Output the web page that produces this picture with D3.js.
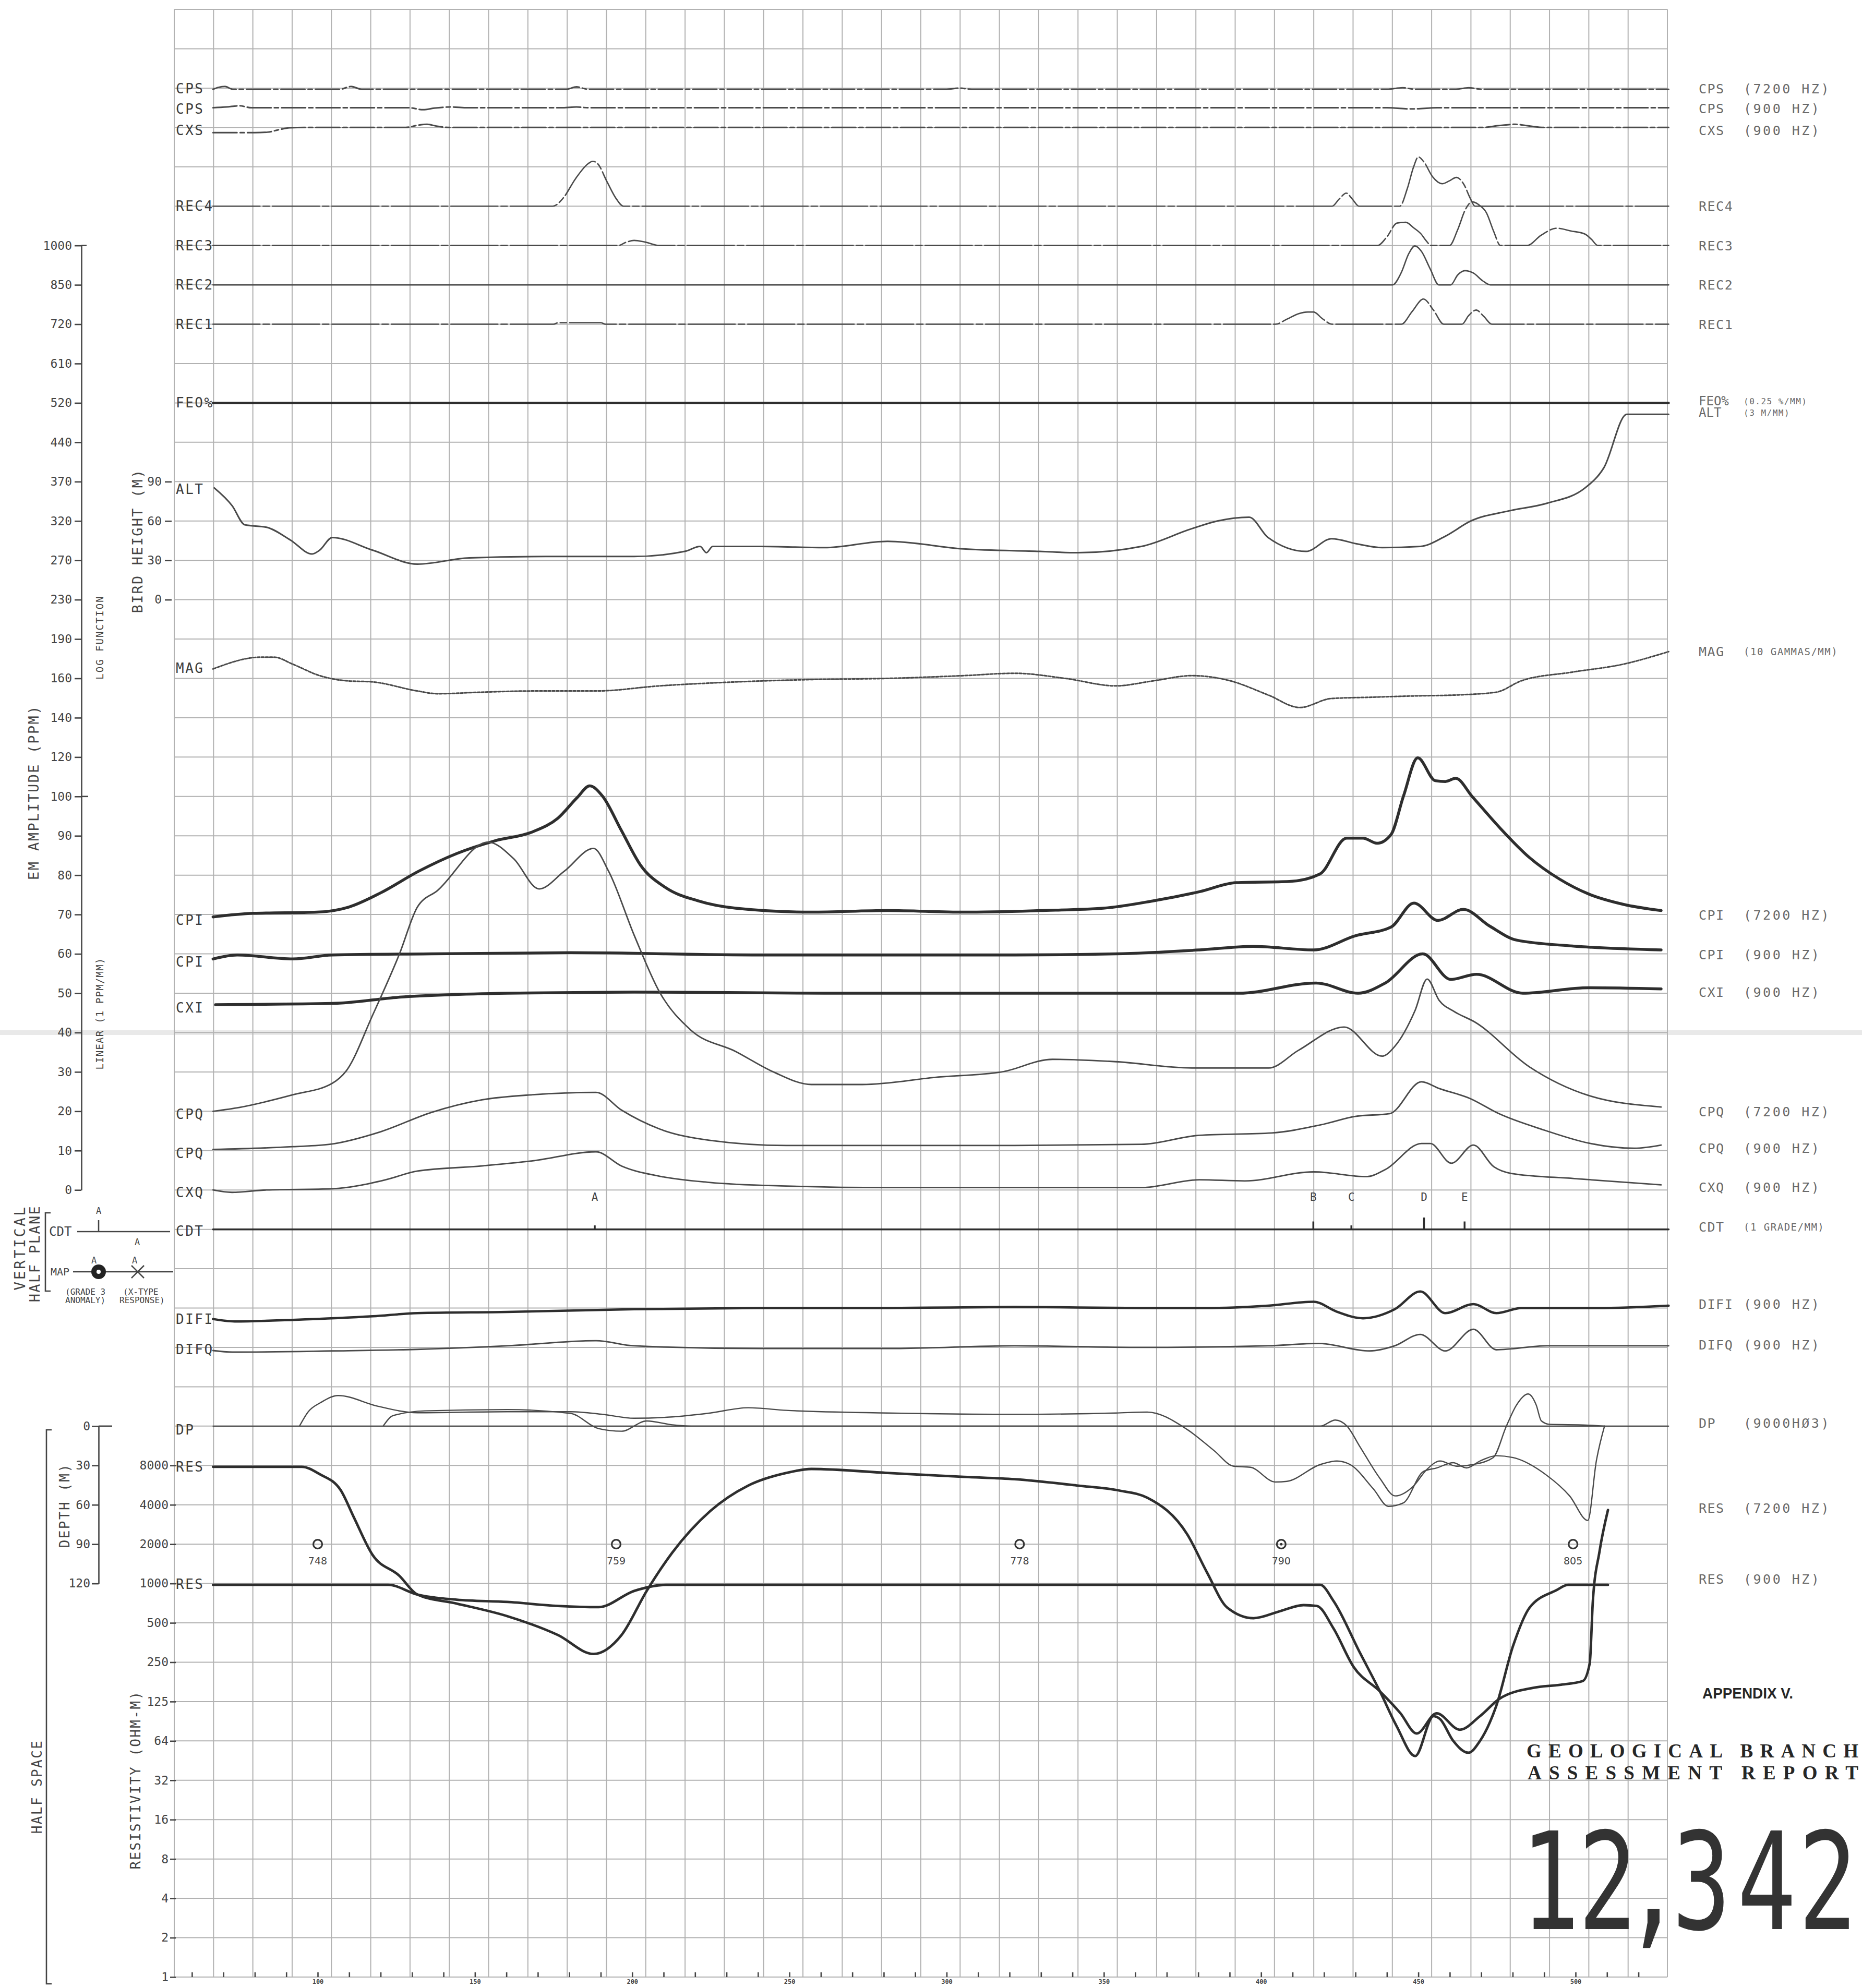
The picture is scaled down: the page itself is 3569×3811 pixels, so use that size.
<!DOCTYPE html>
<html>
<head>
<meta charset="utf-8">
<script src="https://cdn.jsdelivr.net/npm/d3@7"></script>
<style>
  html, body { margin: 0; padding: 0; background: #fff; }
  svg { display: block; }
</style>
</head>
<body>
<script>
// ---------------------------------------------------------------------------
// Airborne EM / MAG profile — data (x = fiducial number along the flight line)
// ---------------------------------------------------------------------------

// Sferics monitors (relative units)
const cps7200 = [[66.7,0],[68.5,5],[70.5,7],[73,0],[107,0],[110.6,7],[114,0],[179,0],[182.3,6],[186,0],[300,0],[304,3],[308,0],[440,0],[445,4],[449,0],[462,0],[466,4],[470,0],[529.6,0]];
const cps900  = [[66.7,0],[71,2],[75.1,5],[79,0],[129,0],[133.5,-5],[137,-1],[142.5,2],[147,0],[178,0],[182.3,2],[186,0],[440,0],[448,-3],[456,0],[529.6,0]];
const cxs     = [[66.7,-13],[80,-13],[84,-12],[88,-5],[91,-1],[96,0],[128,0],[132,6],[134.8,8],[138,3],[142,0],[470,0],[476,5],[480.8,8],[485,4],[490,0],[529.6,0]];

// Recognition channels (relative units)
const rec4 = [[66.7,0],[174.8,0],[178,20],[182,70],[186,108],[187.4,114],[189,108],[192,62],[195,18],[197.2,0],[422.6,0],[424.8,18],[427.1,33],[429,18],[431.1,0],[444.1,0],[446.5,45],[448.5,100],[450,125],[451.8,112],[454.5,75],[457.6,57],[459.8,64],[462.1,73],[464.5,55],[466.5,20],[468,0],[529.6,0]];
const rec3 = [[66.7,0],[195.5,0],[198,8],[200.6,13],[204,9],[208.7,0],[437,0],[440,22],[443.2,57],[446,59],[448.5,45],[450.9,29],[452.5,12],[454.1,0],[459.9,0],[462.5,40],[465,92],[467.1,111],[469.5,102],[471.6,84],[474,35],[476.1,0],[484.6,0],[489,26],[494,44],[498.5,37],[503,29],[505,16],[507.1,0],[529.6,0]];
const rec2 = [[66.7,0],[441.8,0],[444.5,30],[447,80],[448.9,99],[451,85],[453.8,40],[456.5,0],[460.3,0],[462.5,25],[464.8,36],[467.5,30],[470.5,10],[472.9,0],[529.6,0]];
const rec1 = [[66.7,0],[175,0],[176.5,4],[190,4],[191.5,0],[404.6,0],[408,12],[412,27],[414.9,31],[416.7,31],[419.5,14],[422.6,0],[444.6,0],[448,32],[451.6,64],[454.8,36],[458.1,0],[463.9,0],[466,22],[468.4,36],[470.8,20],[473.4,0],[529.6,0]];

// FEO% (flat) and bird altitude (m)
const feo = [[66.7,0],[529.6,0]];
const alt = [[67.1,85.2],[72.8,71.6],[76.8,57.1],[83.7,55.2],[91.3,45.5],[98.2,34.8],[100.6,37.7],[104.6,47.4],[117.5,37.7],[131.7,27.1],[148.2,31.9],[172.4,32.9],[200.6,32.9],[216.7,36.8],[221.6,40.6],[223.6,35.8],[225.6,40.6],[240.9,40.6],[261.1,39.7],[281.2,44.5],[305.4,38.7],[329.6,36.8],[341.7,35.8],[361.9,40.6],[378.0,54.2],[386.1,60.0],[396.2,62.9],[402.2,47.4],[414.3,36.8],[422.4,46.5],[430.4,42.6],[438.5,39.7],[450.6,40.6],[458.6,48.4],[466.7,60.0],[478.8,67.7],[490.9,73.5],[503.0,85.2],[509.0,100.6],[516.3,141.3],[529.6,141.3]];

// Total magnetic field (nT)
const mag = [[66.7,58398],[81.9,58428],[86.1,58428],[92.1,58410],[100.6,58381],[109.1,58368],[117.5,58365],[131.7,58342],[138.1,58335],[152.2,58339],[168.3,58342],[188.5,58342],[208.7,58355],[232.9,58365],[257.0,58371],[281.2,58374],[305.4,58381],[321.6,58387],[337.7,58374],[353.8,58355],[365.9,58368],[378.0,58381],[390.1,58368],[402.2,58332],[412.3,58300],[422.4,58323],[434.5,58326],[446.6,58329],[462.7,58332],[474.8,58339],[482.8,58368],[499.0,58390],[515.1,58410],[529.6,58442]];

// EM amplitudes (ppm, read on the EM amplitude axis)
const cpi7200 = [[66.7,69.4],[79.6,70.3],[99.8,70.6],[109.9,71.9],[120.0,75.5],[132.1,81.0],[144.2,85.5],[156.2,88.7],[168.3,91.0],[176.4,94.5],[182.5,99.7],[186.5,105.4],[190.5,100.3],[196.6,91.3],[202.6,82.6],[210.7,76.8],[220.8,73.5],[232.9,71.6],[257.0,70.6],[281.2,71.0],[305.4,70.6],[329.6,71.0],[349.8,71.6],[365.9,73.5],[380.4,75.8],[392.1,78.1],[409.0,78.4],[418.7,80.3],[427.2,89.4],[432.4,89.4],[436.9,88.1],[441.3,90.3],[445.3,100.3],[449.8,119.6],[455.4,108.0],[458.6,107.6],[461.9,109.2],[467.1,100.0],[475.6,92.3],[485.3,84.5],[494.9,79.0],[504.2,75.2],[515.1,72.6],[527.2,71.0]];
const cpi900  = [[66.7,58.7],[74.4,59.7],[92.1,58.7],[104.6,59.7],[136.1,60.0],[180.4,60.3],[240.9,59.7],[281.2,59.7],[321.6,59.7],[353.8,60.0],[380.4,61.0],[397.4,61.9],[416.7,61.0],[430.0,64.6],[441.3,66.8],[448.6,72.9],[456.2,68.5],[464.3,71.3],[472.8,67.0],[481.2,63.5],[499.0,62.0],[527.2,61.0]];
const cxi     = [[67.5,47.1],[104.6,47.4],[126.0,49.0],[160.3,50.0],[200.6,50.3],[261.0,50.0],[321.6,50.0],[380.4,50.0],[392.9,50.0],[417.5,52.6],[430.8,50.0],[439.5,52.6],[451.4,60.0],[460.3,53.5],[468.5,54.8],[483.2,50.0],[504.2,51.4],[527.2,51.1]];
const cpq7200 = [[66.7,20.0],[75.2,21.0],[92.1,24.2],[104.6,27.1],[109.1,30.3],[117.5,44.5],[126.0,60.0],[131.7,71.9],[138.1,76.1],[154.2,88.4],[162.3,84.2],[170.4,76.5],[178.4,81.0],[187.7,86.8],[192.5,81.0],[200.6,64.8],[208.7,50.3],[218.7,40.6],[232.9,35.2],[244.9,30.0],[257.0,26.8],[273.2,26.8],[297.4,28.7],[317.5,30.0],[333.7,33.2],[353.8,32.6],[378.0,31.0],[402.4,31.0],[411.9,35.5],[426.4,41.4],[438.5,34.0],[442.4,36.4],[449.0,45.7],[452.8,53.6],[456.6,48.2],[461.5,45.3],[467.9,42.7],[485.3,31.3],[504.2,24.0],[527.2,21.1]];
const cpq900  = [[66.7,10.3],[92.1,11.0],[103.8,11.6],[120.0,14.8],[136.1,19.7],[152.2,22.9],[168.3,24.2],[188.5,24.8],[196.6,20.3],[208.7,15.5],[224.8,12.6],[249.0,11.3],[281.2,11.3],[321.6,11.3],[361.9,11.6],[380.4,13.9],[403.4,14.5],[418.7,16.5],[430.0,18.7],[440.9,19.4],[451.0,27.5],[456.6,25.8],[466.3,23.3],[475.6,19.4],[490.1,15.2],[504.2,11.9],[518.7,10.6],[527.2,11.4]];
const cxq     = [[66.7,0.0],[72.8,-0.6],[83.7,0.0],[104.6,0.3],[121.6,2.6],[131.7,4.8],[152.2,6.1],[168.3,7.4],[188.5,9.7],[196.6,6.1],[208.7,3.5],[224.8,1.9],[249.0,1.0],[281.2,0.6],[321.6,0.6],[361.9,0.6],[380.4,2.6],[394.8,2.3],[416.7,4.6],[433.6,3.4],[439.5,5.2],[451.0,11.8],[453.8,11.8],[460.5,6.8],[467.5,11.4],[474.0,5.9],[479.6,4.2],[499.6,2.9],[527.2,1.3]];

// Conductor anomalies (CDT grade)
const cdtIds    = ['A', 'B', 'C', 'D', 'E'];
const cdtFids   = [188.1, 416.6, 428.7, 451.8, 464.7];
const cdtGrades = [1, 2, 1, 3, 2];
const cdtLine   = [[66.7,0],[529.6,0]];

// Difference channels (ppm about their own zero)
const difi = [[66.7,0.1],[73.6,-0.5],[92.1,-0.1],[117.5,0.8],[131.7,1.6],[160.3,1.9],[200.6,2.6],[240.9,2.9],[281.2,2.9],[321.6,3.2],[361.9,2.9],[382.0,2.9],[402.2,3.5],[416.7,4.5],[424.0,2.0],[432.4,0.3],[442.5,2.6],[450.6,7.1],[458.6,1.6],[467.5,3.9],[474.8,1.6],[482.8,2.9],[507.0,2.9],[529.6,3.5]];
const difq = [[66.7,-0.2],[72.8,-0.6],[104.6,-0.3],[131.7,0.1],[160.3,1.0],[188.5,2.3],[200.6,1.0],[240.9,0.3],[281.2,0.3],[321.6,1.0],[361.9,0.6],[402.2,1.0],[418.3,1.6],[434.5,-0.3],[442.5,1.0],[450.6,3.9],[458.6,-0.3],[467.5,5.2],[474.8,0.0],[490.9,1.0],[529.6,1.0]];

// Half-space depths (m) and resistivities (ohm-m)
const dpZero = [[66.7,0],[529.6,0]];
const dp7200 = [[94.2,0],[97,-11],[101,-18],[106.5,-23.3],[119.2,-15.1],[131.7,-10.2],[160.3,-11],[180.4,-11],[190.5,-9],[200.6,-6],[212.7,-7],[224.8,-10],[236.9,-14],[249,-12],[281.2,-10],[321.6,-9],[353.8,-10],[363.8,-10.7],[376.5,2.6],[385.0,18.6],[391.3,30.6],[396.6,31.4],[404.5,42.6],[408.2,42.1],[418.8,29.3],[424.1,26.6],[428.3,29.3],[435.7,47.9],[440.5,61.2],[445.2,58.6],[451.6,34.6],[455.8,31.9],[461.1,27.9],[465.3,31.9],[469.6,26.6],[474.8,22.6],[480.1,24.0],[490.7,37.3],[498.1,53.2],[503.9,71.9],[506.6,26.6],[509.2,0]];
const dp900  = [[120.8,0],[124,-8],[134.1,-11.6],[160.3,-12.6],[180.4,-9.7],[189.3,1.9],[196.6,3.9],[204.6,-3.9],[212.7,-1],[218.7,0],[418.8,0],[423.6,-4.6],[427.3,0],[431.5,16],[437.8,39.9],[442.6,53.2],[448.4,45.8],[452.6,33.3],[456.9,26.6],[462.2,30.6],[467.4,29.3],[473.8,24],[478,0],[481.2,-16],[484.9,-24.5],[487.5,-16],[489.1,-4],[491.8,-1.3],[503.4,-0.8],[509.2,0]];
const res7200 = [[66.7,8000],[94.9,8000],[100.6,7030],[107.3,5300],[111.5,3280],[117.4,1700],[125.9,1176],[131.7,843],[144.2,719],[160.3,576],[176.4,413],[187.7,296],[196.6,413],[204.6,898],[212.7,1758],[224.8,3666],[236.9,5750],[249.0,7180],[257.0,7700],[281.2,7180],[305.4,6700],[321.6,6430],[341.7,5750],[355.0,5260],[363.8,4640],[376.5,2435],[382.8,1243],[389.2,671],[397.6,556],[406.1,630],[413.5,700],[417.7,690],[423.0,465],[429.4,236],[437.8,153],[444.2,105],[449.5,73],[455.8,104],[463.2,78],[469.6,99],[475.9,135],[486.5,163],[495.0,172],[502.3,184],[504.5,251],[505.5,755],[507.6,1795],[510.3,3740]];
const res900  = [[66.7,1000],[122.4,1000],[131.7,843],[144.2,770],[160.3,740],[176.4,690],[189.3,675],[200.6,898],[210.7,1000],[418.8,1000],[423.0,755],[431.5,300],[437.8,153],[443.1,83],[449.0,49],[454.8,99],[456.9,94],[461.1,64],[465.9,52],[469.6,64],[474.8,119],[480.1,340],[485.4,671],[493.9,910],[497.6,1000],[510.3,1000]];

// Flight-path fiducial points
const fidPointLabels = ['748', '759', '778', '790', '805'];
const fidPointValues = [100, 194.9, 323.2, 406.4, 499.2];

// Axis tick values
const emTicks    = [0,10,20,30,40,50,60,70,80,90,100,120,140,160,190,230,270,320,370,440,520,610,720,850,1000];
const altTicks   = [0, 30, 60, 90];
const depthTicks = [0, 30, 60, 90, 120];
const resTicks   = [8192, 4096, 2048, 1024, 512, 256, 128, 64, 32, 16, 8, 4, 2, 1];
const resTickLabels = ['8000','4000','2000','1000','500','250','125','64','32','16','8','4','2','1'];
const fidTicks   = d3.range(60, 530, 10);

// ---------------------------------------------------------------------------
// Layout
// ---------------------------------------------------------------------------
const W = 3569, H = 3811;
const PLOT = { left: 334, right: 3196, top: 18, bottom: 3790 };
const FONT = "'DejaVu Sans Mono','Liberation Mono',monospace";
const INK = '#2e2e2e', INK2 = '#4a4a4a';

const rowY = d3.scaleLinear().domain([0, 50]).range([PLOT.top, PLOT.bottom]);
const colX = d3.scaleLinear().domain([0, 38]).range([PLOT.left, PLOT.right]);
const x = d3.scaleLinear().domain([100, 500]).range([609, 3020]);

// one scale per track, all expressed on the chart-paper rows
const emY    = d3.scaleLinear().domain(emTicks).range(emTicks.map((d, i) => rowY(30 - i)));
const altY   = d3.scaleLinear().domain([0, 90]).range([rowY(15), rowY(12)]);
const magY   = d3.scaleLinear().domain([58300, 58400]).range([rowY(17.74), rowY(16.74)]);
const resY   = d3.scaleLog().base(2).domain([1, 8192]).range([rowY(50), rowY(37)]);
const depthY = d3.scaleLinear().domain([0, 120]).range([rowY(36), rowY(40)]);
const trackY = (baseRow, perRow) => d3.scaleLinear().domain([0, perRow]).range([rowY(baseRow), rowY(baseRow - 1)]);

const svg = d3.select('body').append('svg')
  .attr('width', W).attr('height', H).attr('viewBox', `0 0 ${W} ${H}`);
svg.append('rect').attr('width', W).attr('height', H).attr('fill', '#fff');

// paper fold
svg.append('rect').attr('x', 0).attr('y', 1975).attr('width', W).attr('height', 9)
  .attr('fill', '#e9e9e9');

// ---------------------------------------------------------------------------
// Chart-paper grid
// ---------------------------------------------------------------------------
const grid = svg.append('g').attr('stroke', '#b2b2b2').attr('stroke-width', 2);
grid.selectAll('line.h').data(d3.range(0, 51)).join('line').attr('class', 'h')
  .attr('x1', PLOT.left).attr('x2', PLOT.right)
  .attr('y1', d => rowY(d)).attr('y2', d => rowY(d));
grid.selectAll('line.v').data(d3.range(0, 39)).join('line').attr('class', 'v')
  .attr('x1', d => colX(d)).attr('x2', d => colX(d))
  .attr('y1', PLOT.top).attr('y2', PLOT.bottom);

// ---------------------------------------------------------------------------
// Traces
// ---------------------------------------------------------------------------
const traces = svg.append('g');
function drawTrace(data, yScale, color, width, dash) {
  const line = d3.line().x(d => x(d[0])).y(d => yScale(d[1])).curve(d3.curveMonotoneX);
  traces.append('path').datum(data).attr('d', line)
    .attr('fill', 'none').attr('stroke', color).attr('stroke-width', width)
    .attr('stroke-dasharray', dash || null)
    .attr('stroke-linejoin', 'round').attr('stroke-linecap', 'round');
}

const brokenDash = '46 6 8 6';
drawTrace(cps7200, trackY(2.03, 100), INK2, 3, brokenDash);
drawTrace(cps900,  trackY(2.50, 100), INK2, 3, brokenDash);
drawTrace(cxs,     trackY(3.00, 100), INK2, 3, brokenDash);

drawTrace(rec4, trackY(5, 100), INK2, 2.6, '90 6 12 6');
drawTrace(rec3, trackY(6, 100), INK2, 2.6, '90 6 12 6');
drawTrace(rec2, trackY(7, 100), INK2, 2.6);
drawTrace(rec1, trackY(8, 100), INK2, 2.6, '90 6 12 6');

drawTrace(feo, trackY(10, 100), INK, 4.5);
drawTrace(alt, altY, INK2, 3);
drawTrace(mag, magY, INK2, 3, '5 3');

drawTrace(cpi7200, emY, INK, 5.5);
drawTrace(cpi900,  emY, INK, 5.5);
drawTrace(cxi,     emY, INK, 5.5);
drawTrace(cpq7200, emY, INK2, 2.8);
drawTrace(cpq900,  emY, INK2, 2.8);
drawTrace(cxq,     emY, INK2, 2.8);

// conductor anomaly track
const cdtY = trackY(31, 10);
drawTrace(cdtLine, cdtY, INK, 3.5);
const cdtG = svg.append('g');
cdtIds.forEach((id, i) => {
  cdtG.append('line')
    .attr('x1', x(cdtFids[i])).attr('x2', x(cdtFids[i]))
    .attr('y1', cdtY(0)).attr('y2', cdtY(cdtGrades[i]))
    .attr('stroke', INK).attr('stroke-width', 3.5);
  cdtG.append('text')
    .attr('x', x(cdtFids[i])).attr('y', rowY(30.18))
    .attr('text-anchor', 'middle').attr('dominant-baseline', 'central')
    .attr('font-family', FONT).attr('font-size', 21).attr('fill', '#444')
    .text(id);
});

drawTrace(difi, trackY(33.29, 10), INK, 4.5);
drawTrace(difq, trackY(34.06, 10), INK2, 2.8);

drawTrace(dpZero, depthY, INK2, 2.2);
drawTrace(dp7200, depthY, INK2, 2.4);
drawTrace(dp900,  depthY, INK2, 2.4);

drawTrace(res7200, resY, INK, 4.8);
drawTrace(res900,  resY, INK, 4.8);

// fiducial points on the flight path
const fidG = svg.append('g');
fidPointLabels.forEach((lab, i) => {
  const cx = x(fidPointValues[i]);
  fidG.append('circle').attr('cx', cx).attr('cy', rowY(39.0)).attr('r', 8.5)
    .attr('fill', 'none').attr('stroke', '#333').attr('stroke-width', 3.2);
  if (lab === '790') fidG.append('circle').attr('cx', cx).attr('cy', rowY(39.0)).attr('r', 2.5).attr('fill', '#333');
  fidG.append('text').attr('x', cx).attr('y', rowY(39.42))
    .attr('text-anchor', 'middle').attr('dominant-baseline', 'central')
    .attr('font-family', "'DejaVu Sans','Liberation Sans',sans-serif").attr('font-size', 19).attr('fill', '#444')
    .text(lab);
});

// ---------------------------------------------------------------------------
// Axes
// ---------------------------------------------------------------------------
function styleAxis(g, size) {
  g.attr('font-family', FONT).attr('font-size', size).attr('color', '#444').attr('fill', null);
  g.selectAll('line').attr('stroke-width', 2.6);
  g.selectAll('.domain').attr('stroke-width', 2.6);
}

// fiducial scale along the bottom edge
const gFid = svg.append('g').attr('transform', `translate(0,${rowY(50)})`)
  .call(d3.axisBottom(x).tickValues(fidTicks).tickSize(-9).tickPadding(4)
    .tickFormat(d => d % 50 === 0 ? String(d) : ''));
gFid.select('.domain').remove();
styleAxis(gFid, 12);
gFid.selectAll('text').attr('font-weight', 'bold');

// EM amplitude (linear below 100 ppm, log function above)
const gEm = svg.append('g').attr('transform', 'translate(156,0)')
  .call(d3.axisLeft(emY).tickValues(emTicks).tickSize(13).tickSizeOuter(0).tickPadding(5)
    .tickFormat(d => String(d)));
styleAxis(gEm, 23);
gEm.append('line').attr('x1', 0).attr('x2', 13).attr('y1', emY(100)).attr('y2', emY(100))
  .attr('stroke', 'currentColor').attr('stroke-width', 2.6);
gEm.append('line').attr('x1', 0).attr('x2', 10).attr('y1', emY(1000)).attr('y2', emY(1000))
  .attr('stroke', 'currentColor').attr('stroke-width', 2.6);

// bird height
const gAlt = svg.append('g').attr('transform', 'translate(329,0)')
  .call(d3.axisLeft(altY).tickValues(altTicks).tickSize(13).tickPadding(6).tickFormat(d => String(d)));
gAlt.select('.domain').remove();
styleAxis(gAlt, 23);

// depth
const gDepth = svg.append('g').attr('transform', 'translate(189,0)')
  .call(d3.axisLeft(depthY).tickValues(depthTicks).tickSize(13).tickSizeOuter(0).tickPadding(3)
    .tickFormat(d => String(d)));
styleAxis(gDepth, 23);
gDepth.append('line').attr('x1', 0).attr('x2', 26).attr('y1', depthY(0)).attr('y2', depthY(0))
  .attr('stroke', 'currentColor').attr('stroke-width', 2.6);

// resistivity
const gRes = svg.append('g').attr('transform', 'translate(337,0)')
  .call(d3.axisLeft(resY).tickValues(resTicks).tickSize(11).tickPadding(3)
    .tickFormat((d, i) => resTickLabels[i]));
gRes.select('.domain').remove();
styleAxis(gRes, 23);

// ---------------------------------------------------------------------------
// Titles and channel labels
// ---------------------------------------------------------------------------
const txt = svg.append('g').attr('font-family', FONT);
function vtext(str, cx, cy, size, spacing) {
  txt.append('text').attr('transform', `translate(${cx},${cy}) rotate(-90)`)
    .attr('text-anchor', 'middle').attr('dominant-baseline', 'central')
    .attr('font-size', size).attr('letter-spacing', spacing).attr('fill', '#444').text(str);
}
vtext('EM AMPLITUDE (PPM)', 64, 1519, 27, 2.4);
vtext('LOG FUNCTION', 191, 1222, 19, 2);
vtext('LINEAR (1 PPM/MM)', 191, 1943, 19, 1.2);
vtext('BIRD HEIGHT (M)', 263, 1037, 27, 2.2);
vtext('VERTICAL', 38, 2392, 28, 3.6);
vtext('HALF PLANE', 66, 2403, 27, 2.4);
vtext('DEPTH (M)', 124, 2886, 26, 2.4);
vtext('HALF SPACE', 71, 3425, 26, 2.4);
vtext('RESISTIVITY (OHM-M)', 260, 3412, 26, 2.4);

// channel names at the start of each trace
const leftLabels = [
  ['CPS', 2.02], ['CPS', 2.53], ['CXS', 3.08], ['REC4', 5], ['REC3', 6], ['REC2', 7], ['REC1', 8],
  ['FEO%', 10], ['ALT', 12.19], ['MAG', 16.74], ['CPI', 23.15], ['CPI', 24.21], ['CXI', 25.37],
  ['CPQ', 28.07], ['CPQ', 29.07], ['CXQ', 30.07], ['CDT', 31.04], ['DIFI', 33.29], ['DIFQ', 34.06],
  ['DP', 36.09], ['RES', 37.03], ['RES', 40.02]
];
leftLabels.forEach(([name, r]) => {
  txt.append('text').attr('x', 337).attr('y', rowY(r)).attr('dominant-baseline', 'central')
    .attr('font-size', 26).attr('letter-spacing', 2.5).attr('fill', '#3c3c3c').text(name);
});

// channel key at the right
const rightLabels = [
  ['CPS', '(7200 HZ)', 2.02], ['CPS', '(900 HZ)', 2.53], ['CXS', '(900 HZ)', 3.08],
  ['REC4', '', 5.01], ['REC3', '', 6.01], ['REC2', '', 7.01], ['REC1', '', 8.01],
  ['MAG', '(10 GAMMAS/MM)', 16.32],
  ['CPI', '(7200 HZ)', 23.02], ['CPI', '(900 HZ)', 24.02], ['CXI', '(900 HZ)', 24.98],
  ['CPQ', '(7200 HZ)', 28.01], ['CPQ', '(900 HZ)', 28.94], ['CXQ', '(900 HZ)', 29.94],
  ['CDT', '(1 GRADE/MM)', 30.94], ['DIFI', '(900 HZ)', 32.91], ['DIFQ', '(900 HZ)', 33.94],
  ['DP', '(9000HØ3)', 35.93], ['RES', '(7200 HZ)', 38.09], ['RES', '(900 HZ)', 39.89]
];
rightLabels.forEach(([name, unit, r]) => {
  const small = unit.length > 10;
  txt.append('text').attr('x', 3256).attr('y', rowY(r)).attr('dominant-baseline', 'central')
    .attr('font-size', 25).attr('letter-spacing', 1.5).attr('fill', '#6a6a6a').text(name);
  if (unit) txt.append('text').attr('x', 3342).attr('y', rowY(r)).attr('dominant-baseline', 'central')
    .attr('font-size', small ? 19 : 25).attr('letter-spacing', small ? 1.5 : 3.5).attr('fill', '#6a6a6a').text(unit);
});
// FEO% and ALT share one key line
txt.append('text').attr('x', 3256).attr('y', 777).attr('font-size', 24).attr('fill', '#6a6a6a').text('FEO%');
txt.append('text').attr('x', 3342).attr('y', 775).attr('font-size', 16).attr('letter-spacing', 1.5).attr('fill', '#6a6a6a').text('(0.25 %/MM)');
txt.append('text').attr('x', 3256).attr('y', 799).attr('font-size', 24).attr('fill', '#6a6a6a').text('ALT');
txt.append('text').attr('x', 3342).attr('y', 797).attr('font-size', 16).attr('letter-spacing', 1.5).attr('fill', '#6a6a6a').text('(3 M/MM)');

// ---------------------------------------------------------------------------
// Anomaly symbol key (vertical half plane)
// ---------------------------------------------------------------------------
const key = svg.append('g').attr('stroke', '#444').attr('stroke-width', 2.6).attr('fill', 'none');
key.append('path').attr('d', 'M97,2325 H87 V2475 H97');
key.append('path').attr('d', 'M99,2741 H89 V3803 H99');
key.append('line').attr('x1', 148).attr('x2', 326).attr('y1', 2361).attr('y2', 2361);
key.append('line').attr('x1', 189).attr('x2', 189).attr('y1', 2361).attr('y2', 2339);
key.append('line').attr('x1', 140).attr('x2', 332).attr('y1', 2438).attr('y2', 2438);
key.append('line').attr('x1', 252).attr('x2', 276).attr('y1', 2426).attr('y2', 2450);
key.append('line').attr('x1', 252).attr('x2', 276).attr('y1', 2450).attr('y2', 2426);
svg.append('circle').attr('cx', 189).attr('cy', 2438).attr('r', 14).attr('fill', '#222');
svg.append('circle').attr('cx', 189).attr('cy', 2438).attr('r', 4).attr('fill', '#fff');
const keyText = (s, xx, yy, size, anchor) => txt.append('text').attr('x', xx).attr('y', yy)
  .attr('font-size', size).attr('text-anchor', anchor || 'start').attr('dominant-baseline', 'central')
  .attr('fill', '#444').text(s);
keyText('CDT', 94, 2361, 24);
keyText('MAP', 97, 2438, 20);
keyText('A', 189, 2321, 17, 'middle');
keyText('A', 263, 2381, 17, 'middle');
keyText('A', 180, 2416, 17, 'middle');
keyText('A', 258, 2416, 17, 'middle');
keyText('(GRADE 3', 125, 2476, 16);
keyText('ANOMALY)', 125, 2492, 16);
keyText('(X-TYPE', 236, 2476, 16);
keyText('RESPONSE)', 229, 2492, 16);

// ---------------------------------------------------------------------------
// Report stamp
// ---------------------------------------------------------------------------
const stamp = svg.append('g').attr('fill', '#262626');
stamp.append('text').attr('x', 3263).attr('y', 3256)
  .attr('font-family', "'Liberation Sans','DejaVu Sans',sans-serif").attr('font-weight', 'bold')
  .attr('font-size', 29).attr('textLength', 174).attr('lengthAdjust', 'spacingAndGlyphs')
  .text('APPENDIX  V.');
stamp.append('text').attr('x', 2926).attr('y', 3369)
  .attr('font-family', "'Liberation Serif','DejaVu Serif',serif").attr('font-weight', 'bold')
  .attr('font-size', 37).attr('textLength', 636).attr('lengthAdjust', 'spacing')
  .text('GEOLOGICAL BRANCH');
stamp.append('text').attr('x', 2928).attr('y', 3411)
  .attr('font-family', "'Liberation Serif','DejaVu Serif',serif").attr('font-weight', 'bold')
  .attr('font-size', 37).attr('textLength', 634).attr('lengthAdjust', 'spacing')
  .text('ASSESSMENT REPORT');
const sx = 0.78, sy = 1.08;
stamp.append('text').attr('transform', `scale(${sx},${sy})`)
  .attr('x', [2915, 3025, 3112, 3205, 3330, 3447].map(v => (v / sx).toFixed(1)).join(' '))
  .attr('y', (3698 / sy).toFixed(1))
  .attr('font-family', FONT).attr('font-size', 240).attr('fill', '#333')
  .text('12,342');
</script>
</body>
</html>
